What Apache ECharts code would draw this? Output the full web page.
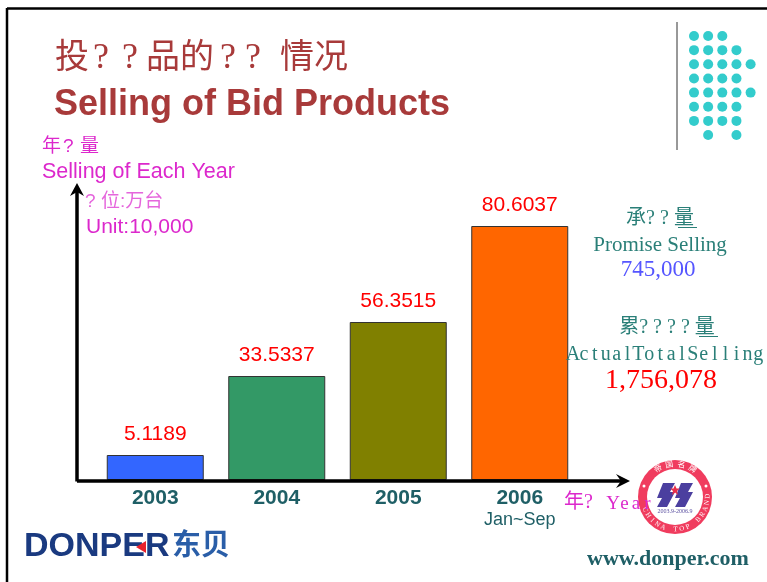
<!DOCTYPE html>
<html>
<head>
<meta charset="utf-8">
<style>
  html, body { margin: 0; padding: 0; background: #fff; }
  #chart { width: 767px; height: 582px; }
</style>
<script src="https://cdn.jsdelivr.net/npm/echarts@6/dist/echarts.min.js"></script>
</head>
<body>
<div id="chart"></div>
<script>
const years = ["2003", "2004", "2005", "2006"];
const yearNotes = ["", "", "", "Jan~Sep"];
const valueLabels = ["5.1189", "33.5337", "56.3515", "80.6037"];
// the bars in the picture are not to scale with their labels, so these are the drawn heights
const barHeights = [25, 104, 158, 254];
const barColors = ["#3366ff", "#339966", "#808000", "#ff6600"];
const dotRows = [[0, 1, 2], [0, 1, 2, 3], [0, 1, 2, 3, 4], [0, 1, 2, 3], [0, 1, 2, 3, 4], [0, 1, 2, 3], [0, 1, 2, 3], [1, 3]];

const SANS = '"Liberation Sans", "Noto Sans CJK SC", sans-serif';
const SERIF = '"Liberation Serif", "Noto Sans CJK SC", serif';
const MAGENTA = "#dc28cc";
const TEAL = "#2a7f78";
const DARK_TEAL = "#1f5f66";
const BRICK = "#a83a3a";

function label(text, x, y, font, size, color, opts = {}) {
  return {
    type: "text",
    z: opts.z || 10,
    rotation: opts.rotation || 0,
    x,
    y,
    style: {
      text,
      fontFamily: font,
      fontSize: size,
      fontWeight: opts.bold ? "bold" : "normal",
      fill: color,
      align: opts.align || "left",
      verticalAlign: "middle",
    },
  };
}

function line(x1, y1, x2, y2, color, width, z = 10) {
  return { type: "line", z, shape: { x1, y1, x2, y2 }, style: { stroke: color, lineWidth: width } };
}

function poly(points, color, z = 10) {
  return { type: "polygon", z, shape: { points }, style: { fill: color } };
}

function circle(cx, cy, r, color, z = 10) {
  return { type: "circle", z, shape: { cx, cy, r }, style: { fill: color } };
}

// fixed pitch text, the original had odd letter spacing
function pitched(text, x, y, pitch, font, size, color, opts = {}) {
  return text.split("").map((c, i) => label(c, x + i * pitch, y, font, size, color, { ...opts, align: "center" }));
}

function ringText(text, cx, cy, r, startDeg, stepDeg, size, color, inward) {
  return text.split("").map((c, i) => {
    const a = ((startDeg + i * stepDeg) * Math.PI) / 180;
    return label(c, cx + r * Math.sin(a), cy - r * Math.cos(a), SERIF, size, color, {
      align: "center",
      z: 12,
      rotation: inward ? -a : Math.PI - a,
    });
  });
}

function stamp(cx, cy) {
  const purple = "#4b3f9f";
  const sMark = (dx) => {
    const shape = [[-3, -12], [9, -12], [4, -3], [9, -3], [1, 12], [-9, 12], [-4, 3], [-9, 3]];
    return poly(shape.map(([x, y]) => [cx + dx + x, cy - 2 + y]), purple, 11);
  };
  const sx = cx;
  const sy = cy - 7;
  return [
    circle(cx, cy, 37, "#f03c5e", 9),
    circle(cx, cy, 28, "#ffffff", 9),
    sMark(-9),
    sMark(9),
    poly([[sx, sy - 5], [sx + 1.5, sy - 1.5], [sx + 5, sy - 1.5], [sx + 2, sy + 1], [sx + 3, sy + 5], [sx, sy + 2.5], [sx - 3, sy + 5], [sx - 2, sy + 1], [sx - 5, sy - 1.5], [sx - 1.5, sy - 1.5]], "#e8304a", 12),
    label("2003.9-2006.9", cx, cy + 14, SERIF, 6, "#5a4fa0", { align: "center", z: 12 }),
    ...ringText("帝国名牌", cx, cy, 32.5, -31, 21, 8, "#ffffff", true),
    ...ringText("CHINA TOP BRAND", cx, cy, 32.5, 247, -11.3, 7, "#ffffff", false),
    circle(cx - 31, cy - 11, 1.5, "#fff", 12),
    circle(cx + 31, cy - 11, 1.5, "#fff", 12),
  ];
}

const dots = [];
dotRows.forEach((cols, r) => {
  cols.forEach((c) => dots.push(circle(694 + c * 14.15, 36 + r * 14.15, 5, "#33cccc")));
});

const graphics = [
  // slide frame
  line(7, 8.5, 767, 8.5, "#000", 2.5),
  line(7, 8, 7, 582, "#000", 2.5),
  line(677, 22, 677, 150, "#333", 1),
  ...dots,

  // title
  label("投", 55, 59, SERIF, 34, BRICK),
  label("?", 93, 59, SERIF, 36, BRICK),
  label("?", 122, 59, SERIF, 36, BRICK),
  label("品的", 146, 59, SERIF, 34, BRICK),
  label("?", 220, 59, SERIF, 36, BRICK),
  label("?", 245, 59, SERIF, 36, BRICK),
  label("情况", 280, 59, SERIF, 34, BRICK),
  label("Selling of Bid Products", 54, 105, SANS, 36, BRICK, { bold: true }),

  // axes drawn separately, they run past the plot area
  line(77, 481, 622, 481, "#000", 3.5, 8),
  line(77, 481.5, 77, 192, "#000", 3.5, 8),
  poly([[77, 183], [84, 196], [77, 192], [70, 196]], "#000", 8),
  poly([[630, 481], [616, 474], [621, 481], [616, 488]], "#000", 8),

  // axis captions
  label("年", 42, 147, SANS, 19, MAGENTA),
  label("?", 63, 147, SANS, 19, MAGENTA),
  label("量", 80, 147, SANS, 19, MAGENTA),
  label("Selling of Each Year", 42, 172, SANS, 21.5, MAGENTA),
  label("?", 85, 202, SANS, 19, "#e566dc"),
  label("位:万台", 101, 202, SANS, 19, "#e566dc"),
  label("Unit:10,000", 86, 227, SANS, 21, MAGENTA),
  label("年?", 564, 503, SERIF, 20, MAGENTA, { z: 13 }),
  ...pitched("Year", 613, 504, 11.5, SERIF, 19, MAGENTA, { z: 13 }),

  // side notes
  label("承? ? 量", 660, 219, SERIF, 20, TEAL, { align: "center" }),
  line(678, 227.5, 697, 227.5, TEAL, 1),
  label("Promise Selling", 660, 245, SERIF, 21, TEAL, { align: "center" }),
  label("745,000", 658, 270, SERIF, 23, "#5555ff", { align: "center" }),
  label("累? ? ? ? 量", 667, 328, SERIF, 20, TEAL, { align: "center" }),
  line(699, 336.5, 718, 336.5, TEAL, 1),
  ...pitched("ActualTotalSelling", 573, 355, 10.9, SERIF, 20, TEAL),
  label("1,756,078", 661, 381, SERIF, 28, "#ff0000", { align: "center" }),

  // logos
  label("DONPER", 24, 547, SANS, 34, "#1a3a80", { bold: true }),
  poly([[136, 547], [146, 541], [146, 553]], "#e8202a", 11),
  label("东贝", 172, 547, SANS, 29, "#2a5ea8", { bold: true }),
  ...stamp(675, 497),
  label("www.donper.com", 587, 559, SERIF, 22, DARK_TEAL, { bold: true }),
];

const chart = echarts.init(document.getElementById("chart"), null, { renderer: "canvas" });

chart.setOption({
  animation: false,
  backgroundColor: "#fff",
  grid: { left: 94.5, width: 486, top: 180, height: 300 },
  xAxis: {
    type: "category",
    data: years,
    axisLine: { show: false },
    axisTick: { show: false },
    axisLabel: {
      margin: 6,
      formatter: (value, i) => (yearNotes[i] ? `{y|${value}}\n{n|${yearNotes[i]}}` : `{y|${value}}`),
      verticalAlign: "top",
      rich: {
        y: { fontFamily: SANS, fontSize: 21, fontWeight: "bold", color: DARK_TEAL, lineHeight: 24 },
        n: { fontFamily: SANS, fontSize: 18, color: DARK_TEAL, lineHeight: 20 },
      },
    },
  },
  yAxis: { type: "value", min: 0, max: 300, show: false },
  series: [
    {
      type: "bar",
      barWidth: 97,
      data: barHeights.map((h, i) => ({
        value: h,
        itemStyle: { color: barColors[i], borderColor: "#333", borderWidth: 1 },
      })),
      label: {
        show: true,
        position: "top",
        distance: 10,
        formatter: (p) => valueLabels[p.dataIndex],
        fontFamily: SANS,
        fontSize: 21,
        color: "#ff0000",
      },
    },
  ],
  graphic: { elements: graphics },
});
</script>
</body>
</html>
